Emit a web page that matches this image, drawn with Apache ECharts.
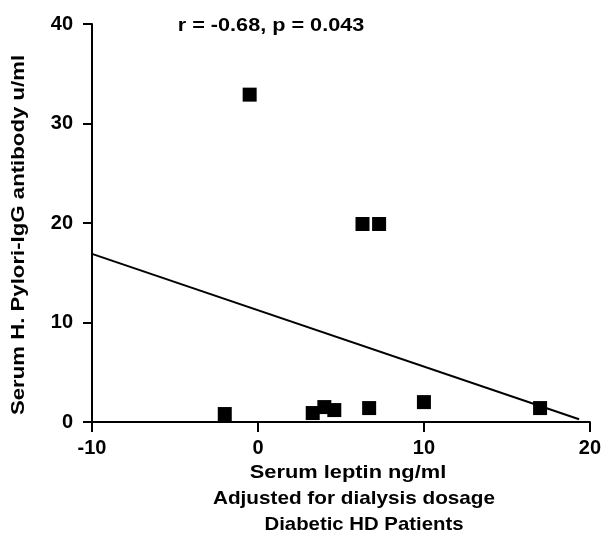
<!DOCTYPE html>
<html>
<head>
<meta charset="utf-8">
<script src="https://cdn.jsdelivr.net/npm/echarts@6/dist/echarts.min.js"></script>
<style>
  html, body { margin: 0; padding: 0; background: #fff; }
  #main { width: 604px; height: 537px; }
</style>
</head>
<body>
<div id="main"></div>
<script>
// data
var leptin = [-0.5, 6.3, 7.3, -2.0, 3.3, 4.0, 4.6, 6.7, 10.0, 17.0];
var antibody = [32.9, 19.9, 19.9, 0.8, 0.9, 1.5, 1.2, 1.4, 2.0, 1.4];
// regression line end points
var fitX = [-10, 19.35];
var fitY = [16.9, 0.27];
var xTicks = [-10, 0, 10, 20];
var yTicks = [0, 10, 20, 30, 40];

var FONT = '"Liberation Sans", Arial, sans-serif';

var myChart = echarts.init(document.getElementById('main'));

var points = leptin.map(function (x, i) { return [x, antibody[i]]; });
var fitLine = fitX.map(function (x, i) { return [x, fitY[i]]; });

// the original lettering is a little wider than Arial, so stretch it
function label(text, x, y, sx, rot) {
    return {
        type: 'text', x: x, y: y, scaleX: sx, rotation: rot || 0,
        style: {
            text: text, fill: '#000', font: 'bold 18.5px ' + FONT,
            textAlign: 'center', textVerticalAlign: 'middle'
        }
    };
}

var option = {
    animation: false,
    backgroundColor: '#fff',
    grid: { left: 92, right: 14, top: 24, bottom: 115 },
    xAxis: {
        type: 'value',
        min: xTicks[0], max: xTicks[xTicks.length - 1], interval: 10,
        splitLine: { show: false },
        axisLine: { onZero: false, lineStyle: { color: '#000', width: 2 } },
        axisTick: { length: 10, lineStyle: { color: '#000', width: 2 } },
        axisLabel: { color: '#000', fontFamily: FONT, fontWeight: 'bold', fontSize: 20, margin: 16 }
    },
    yAxis: {
        type: 'value',
        min: yTicks[0], max: yTicks[yTicks.length - 1], interval: 10,
        splitLine: { show: false },
        axisLine: { onZero: false, lineStyle: { color: '#000', width: 2 } },
        axisTick: { length: 9, lineStyle: { color: '#000', width: 2 } },
        axisLabel: { color: '#000', fontFamily: FONT, fontWeight: 'bold', fontSize: 20, margin: 19 }
    },
    series: [
        {
            type: 'line',
            data: fitLine,
            symbol: 'none',
            lineStyle: { color: '#000', width: 2 },
            z: 2
        },
        {
            type: 'scatter',
            data: points,
            symbol: 'rect',
            symbolSize: [14, 14],
            itemStyle: { color: '#000', opacity: 1 },
            z: 3
        }
    ],
    graphic: [
        label('r = -0.68, p = 0.043', 271, 26, 1.17),
        label('Serum leptin ng/ml', 348, 473, 1.18),
        label('Adjusted for dialysis dosage', 354, 499, 1.12),
        label('Diabetic HD Patients', 364, 525, 1.1),
        label('Serum H. Pylori-IgG antibody u/ml', 19, 235, 1.2, Math.PI / 2)
    ]
};

myChart.setOption(option);
</script>
</body>
</html>
